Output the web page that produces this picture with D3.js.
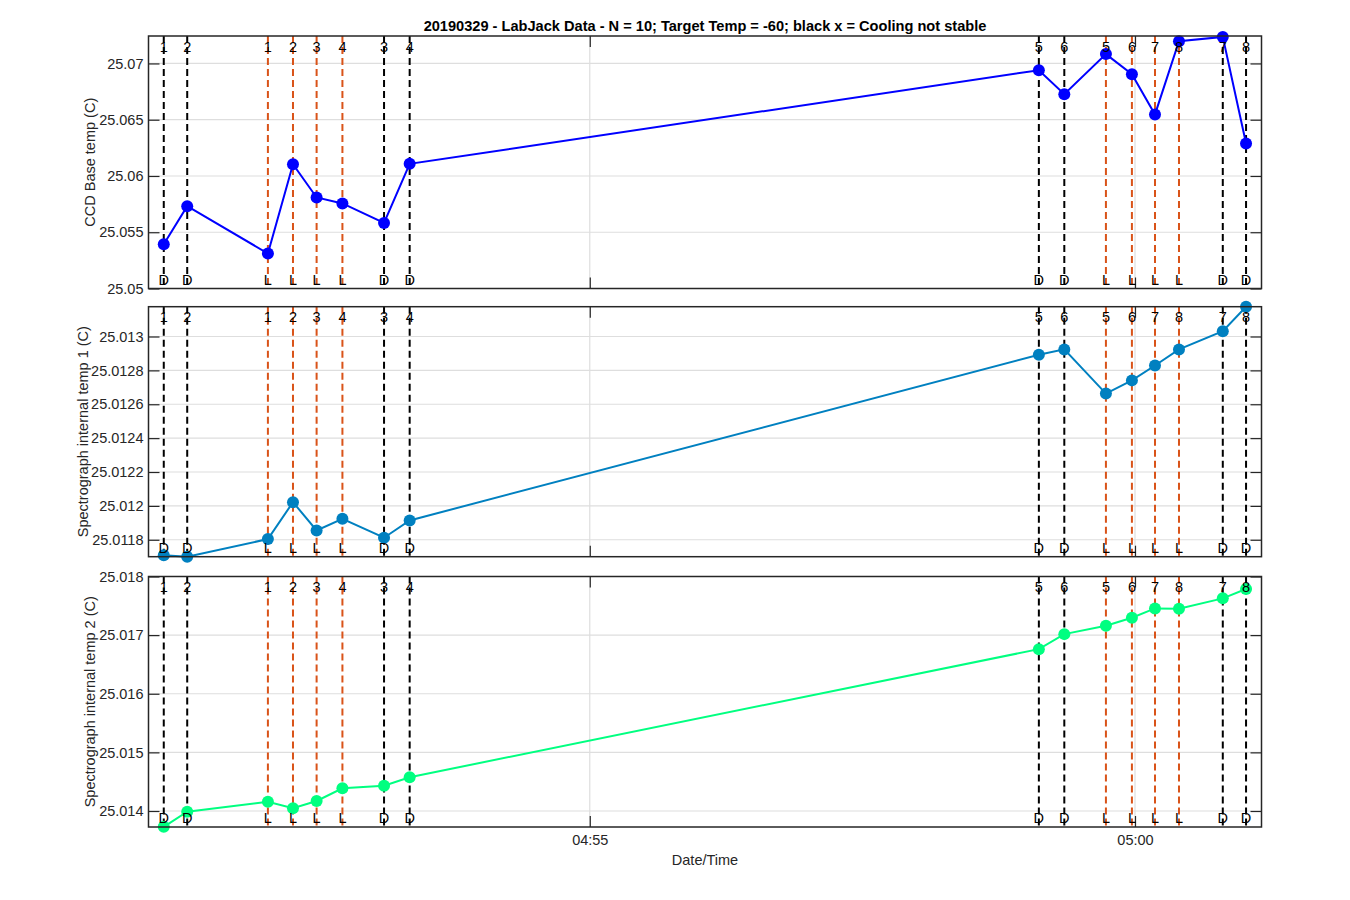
<!DOCTYPE html>
<html>
<head>
<meta charset="utf-8">
<script src="https://cdn.jsdelivr.net/npm/d3@7"></script>
<style>
  html, body { margin: 0; padding: 0; background: #ffffff; }
  svg { display: block; font-family: "Liberation Sans", Arial, Helvetica, sans-serif; }
</style>
</head>
<body>
<svg id="chart" width="1350" height="900"></svg>
<script>
// ---------------- Data ----------------
const chartTitle = "20190329 - LabJack Data - N = 10; Target Temp = -60; black x = Cooling not stable";
const xAxisLabel = "Date/Time";
const chartDate = "2019-03-29";
const axisStart = "04:50:57.200";
const axisEnd = "05:01:09.600";
const xTickLabels = ["04:55", "05:00"];

const eventTimes = [
  "04:51:05.600", "04:51:18.500", "04:52:02.900", "04:52:16.700",
  "04:52:29.700", "04:52:43.900", "04:53:06.800", "04:53:20.900",
  "04:59:07.100", "04:59:21.100", "04:59:44.000", "04:59:58.300",
  "05:00:11.000", "05:00:24.200", "05:00:48.300", "05:01:01.100"
];
const eventTypes = ["D","D","L","L","L","L","D","D","D","D","L","L","L","L","D","D"];
const eventNumbers = ["1","2","1","2","3","4","3","4","5","6","5","6","7","8","7","8"];

const ccdBaseTemp = [
  25.05394, 25.05732, 25.05311, 25.06105, 25.05809, 25.05756, 25.05583, 25.06108,
  25.06940, 25.06727, 25.07083, 25.06905, 25.06547, 25.07198, 25.07236, 25.06289
];
const specTemp1 = [
  25.011708, 25.011700, 25.011804, 25.012022, 25.011855, 25.011924, 25.011812, 25.011914,
  25.012892, 25.012924, 25.012663, 25.012741, 25.012829, 25.012924, 25.013031, 25.013176
];
const specTemp2 = [
  25.013730, 25.013988, 25.014159, 25.014046, 25.014171, 25.014388, 25.014432, 25.014576,
  25.016761, 25.017017, 25.017159, 25.017296, 25.017456, 25.017450, 25.017627, 25.017786
];

const yLabels = ["CCD Base temp (C)", "Spectrograph internal temp 1 (C)", "Spectrograph internal temp 2 (C)"];
const yDomains = [[25.05, 25.07244], [25.0117, 25.013176], [25.013727, 25.018]];
const yTicks = [
  [25.05, 25.055, 25.06, 25.065, 25.07],
  [25.0118, 25.012, 25.0122, 25.0124, 25.0126, 25.0128, 25.013],
  [25.014, 25.015, 25.016, 25.017, 25.018]
];
const seriesColors = ["#0000ff", "#0080c0", "#00ff80"];

// ---------------- Layout ----------------
const svg = d3.select("#chart");
const left = 148.5, right = 1261.5;
const panels = [
  { top: 36, bottom: 288.5 },
  { top: 306.7, bottom: 556.7 },
  { top: 576.5, bottom: 827 }
];
const axisColor = "#262626";
const gridColor = "#dedede";
const tickLen = 11;
const fontSize = 14.5;

const parseT = d3.timeParse("%Y-%m-%d %H:%M:%S.%L");
const parseTick = d3.timeParse("%Y-%m-%d %H:%M");
const times = eventTimes.map(t => parseT(chartDate + " " + t));
const x = d3.scaleTime()
  .domain([parseT(chartDate + " " + axisStart), parseT(chartDate + " " + axisEnd)])
  .range([left, right]);
const xTickDates = xTickLabels.map(t => parseTick(chartDate + " " + t));
const fmtTime = d3.timeFormat("%H:%M");
const fmtY = v => String(+v.toFixed(6));

const seriesList = [ccdBaseTemp, specTemp1, specTemp2];

panels.forEach((p, i) => {
  const y = d3.scaleLinear().domain(yDomains[i]).range([p.bottom, p.top]);
  const g = svg.append("g");
  const w = right - left, h = p.bottom - p.top;

  g.append("rect").attr("x", left).attr("y", p.top).attr("width", w).attr("height", h).attr("fill", "#fff");

  // grid lines
  g.append("g").selectAll("line").data(yTicks[i]).join("line")
    .attr("x1", left).attr("x2", right)
    .attr("y1", d => y(d)).attr("y2", d => y(d))
    .attr("stroke", gridColor).attr("stroke-width", 1.2);
  g.append("g").selectAll("line").data(xTickDates).join("line")
    .attr("x1", d => x(d)).attr("x2", d => x(d))
    .attr("y1", p.top).attr("y2", p.bottom)
    .attr("stroke", gridColor).attr("stroke-width", 1.2);

  // event dashed lines
  g.append("g").selectAll("line").data(times).join("line")
    .attr("x1", d => x(d)).attr("x2", d => x(d))
    .attr("y1", p.top).attr("y2", p.bottom)
    .attr("stroke", (d, k) => eventTypes[k] === "D" ? "#000000" : "#d95319")
    .attr("stroke-width", 2)
    .attr("stroke-dasharray", "7,4");

  // axes (ticks inside)
  const yAxisL = d3.axisLeft(y).tickValues(yTicks[i]).tickFormat(fmtY).tickSizeInner(-tickLen).tickSizeOuter(0).tickPadding(5);
  const yAxisR = d3.axisRight(y).tickValues(yTicks[i]).tickFormat("").tickSizeInner(-tickLen).tickSizeOuter(0);
  const xAxisB = d3.axisBottom(x).tickValues(xTickDates).tickFormat(i === 2 ? fmtTime : "").tickSizeInner(-tickLen).tickSizeOuter(0).tickPadding(8);
  const xAxisT = d3.axisTop(x).tickValues(xTickDates).tickFormat("").tickSizeInner(-tickLen).tickSizeOuter(0);

  const styleAxis = sel => {
    sel.select(".domain").remove();
    sel.selectAll(".tick line").attr("stroke", axisColor).attr("stroke-width", 1.2);
    sel.selectAll(".tick text").attr("fill", axisColor).attr("font-size", fontSize).attr("font-family", "'Liberation Sans', Arial, sans-serif");
  };
  g.append("g").attr("transform", `translate(${left},0)`).call(yAxisL).call(styleAxis);
  g.append("g").attr("transform", `translate(${right},0)`).call(yAxisR).call(styleAxis);
  g.append("g").attr("transform", `translate(0,${p.bottom})`).call(xAxisB).call(styleAxis);
  g.append("g").attr("transform", `translate(0,${p.top})`).call(xAxisT).call(styleAxis);

  // series
  const vals = seriesList[i];
  const line = d3.line().x((d, k) => x(times[k])).y(d => y(d));
  g.append("path").datum(vals).attr("d", line)
    .attr("fill", "none").attr("stroke", seriesColors[i]).attr("stroke-width", 2);
  g.append("g").selectAll("circle").data(vals).join("circle")
    .attr("cx", (d, k) => x(times[k])).attr("cy", d => y(d)).attr("r", 6)
    .attr("fill", seriesColors[i]);

  // event labels (drawn on top of the markers)
  g.append("g").selectAll("text").data(times).join("text")
    .attr("x", d => x(d)).attr("y", p.top + 15.5)
    .attr("text-anchor", "middle").attr("font-size", fontSize).attr("fill", "#000")
    .text((d, k) => eventNumbers[k]);
  g.append("g").selectAll("text").data(times).join("text")
    .attr("x", d => x(d)).attr("y", p.bottom - 4)
    .attr("text-anchor", "middle").attr("font-size", fontSize).attr("fill", "#000")
    .text((d, k) => eventTypes[k]);

  // box
  g.append("rect").attr("x", left).attr("y", p.top).attr("width", w).attr("height", h)
    .attr("fill", "none").attr("stroke", axisColor).attr("stroke-width", 1.5);

  // y label
  const cy = (p.top + p.bottom) / 2;
  const lx = i === 1 ? 88 : 95;
  svg.append("text")
    .attr("transform", `translate(${lx},${cy}) rotate(-90)`)
    .attr("text-anchor", "middle").attr("font-size", fontSize).attr("fill", axisColor)
    .text(yLabels[i]);
});

// title
svg.append("text").attr("x", (left + right) / 2).attr("y", 31)
  .attr("text-anchor", "middle").attr("font-size", 14.6).attr("font-weight", "bold").attr("fill", "#000")
  .text(chartTitle);

// x label
svg.append("text").attr("x", (left + right) / 2).attr("y", 865)
  .attr("text-anchor", "middle").attr("font-size", fontSize).attr("fill", axisColor)
  .text(xAxisLabel);
</script>
</body>
</html>
